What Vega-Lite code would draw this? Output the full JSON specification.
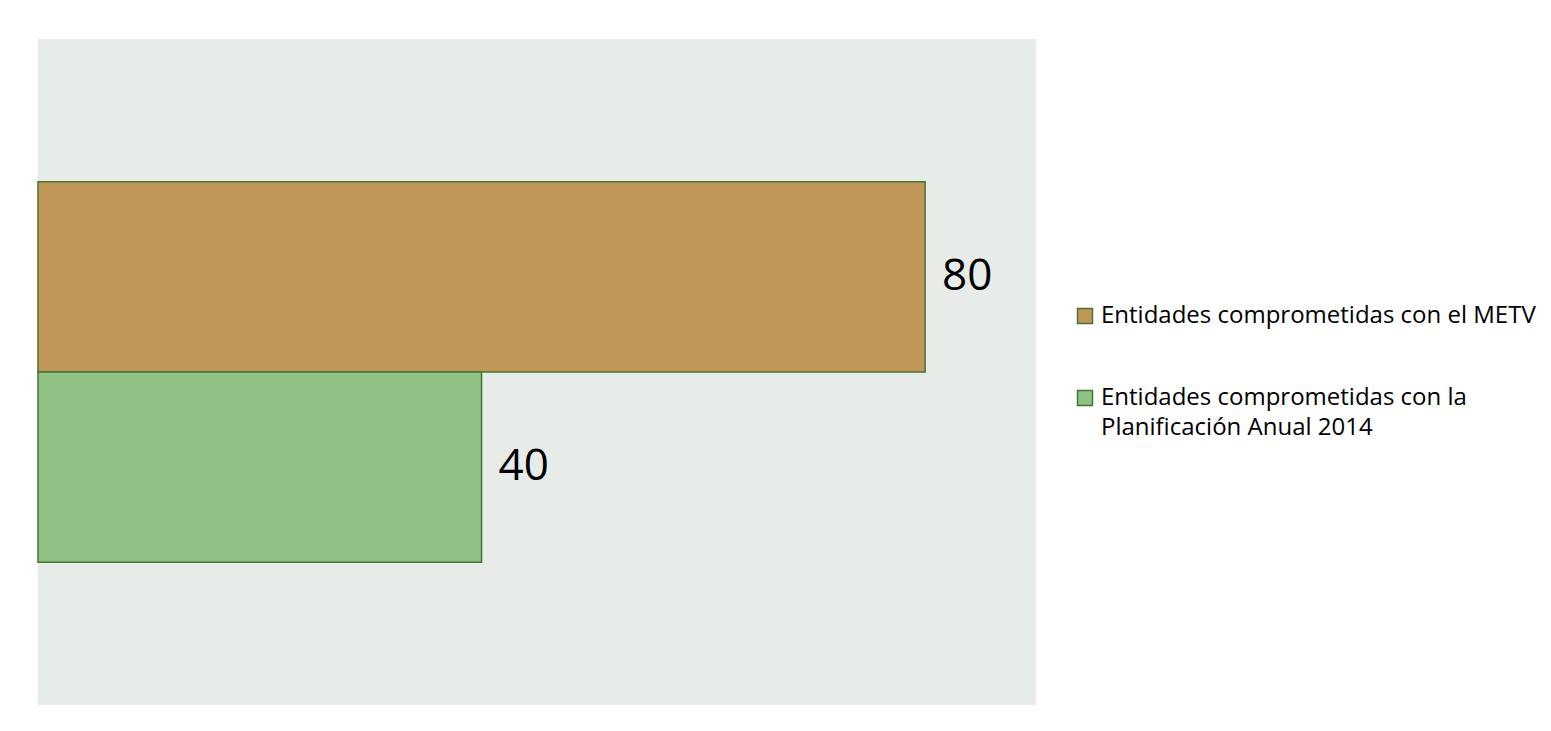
{
  "$schema": "https://vega.github.io/schema/vega-lite/v6.json",
  "width": 998,
  "height": 666,
  "padding": {"left": 37, "top": 39, "right": 0, "bottom": 0},
  "autosize": {"type": "pad"},
  "background": "#FFFFFF",
  "config": {
    "view": {"fill": "#E7ECE9", "stroke": null},
    "font": "Open Sans",
    "style": {"guide-label": {"lineHeight": 30}}
  },
  "data": {
    "values": [
      {"serie": "Entidades comprometidas con el METV", "valor": 80},
      {"serie": "Entidades comprometidas con la Planificación Anual 2014", "valor": 40}
    ]
  },
  "encoding": {
    "y": {
      "field": "serie",
      "type": "nominal",
      "sort": null,
      "axis": null,
      "scale": {"paddingInner": 0, "paddingOuter": 0.75}
    },
    "x": {
      "field": "valor",
      "type": "quantitative",
      "axis": null,
      "scale": {"domain": [0, 90], "nice": false}
    }
  },
  "layer": [
    {
      "mark": {"type": "bar", "stroke": "#437534", "strokeWidth": 1.5},
      "encoding": {
        "color": {
          "field": "serie",
          "type": "nominal",
          "sort": null,
          "scale": {
            "domain": ["Entidades comprometidas con el METV", "Entidades comprometidas con la Planificación Anual 2014"],
            "range": ["#C19758", "#90C284"]
          },
          "legend": {
            "title": null,
            "orient": "none",
            "legendX": 1035,
            "legendY": 265,
            "symbolType": "square",
            "symbolSize": 225,
            "symbolStrokeColor": "#437534",
            "symbolStrokeWidth": 1.5,
            "symbolOpacity": 1,
            "labelFont": "Open Sans",
            "labelFontSize": 24,
            "labelColor": "#000000",
            "labelLimit": 600,
            "labelOffset": 4,
            "rowPadding": 58,
            "labelExpr": "indexof(datum.label, 'Planificación') > 0 ? ['Entidades comprometidas con la', 'Planificación Anual 2014'] : datum.label"
          }
        }
      }
    },
    {
      "mark": {"type": "text", "align": "left", "baseline": "middle", "dx": 17, "fontSize": 44, "font": "Open Sans", "color": "#000000"},
      "encoding": {"text": {"field": "valor", "type": "quantitative"}}
    }
  ]
}
